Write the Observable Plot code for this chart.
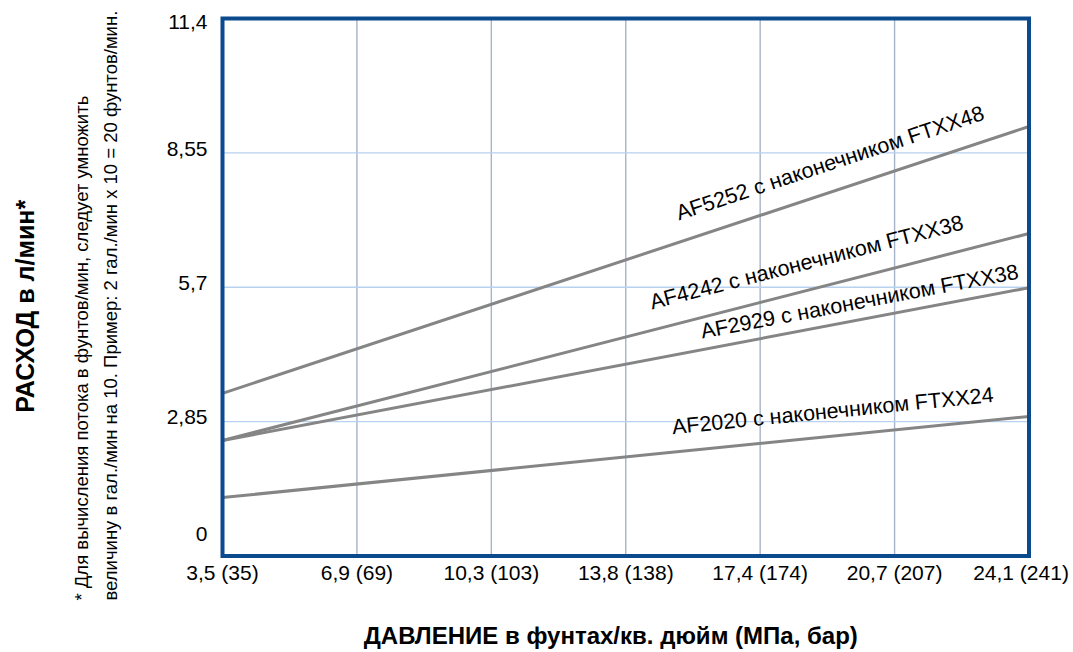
<!DOCTYPE html>
<html>
<head>
<meta charset="utf-8">
<script src="https://cdn.jsdelivr.net/npm/d3@7"></script>
<script src="https://cdn.jsdelivr.net/npm/@observablehq/plot@0.6"></script>
<style>
  html, body { margin: 0; padding: 0; background: #fff; }
  #chart svg { display: block; }
</style>
</head>
<body>
<div id="chart"></div>
<script>
// ---- data ----
const pressureLabels = ["3,5 (35)", "6,9 (69)", "10,3 (103)", "13,8 (138)", "17,4 (174)", "20,7 (207)", "24,1 (241)"];
const yTickValues = [0, 2.85, 5.7, 8.55, 11.4];
const yTickLabels = ["0", "2,85", "5,7", "8,55", "11,4"];
const seriesNames = [
  "AF5252 с наконечником FTXX48",
  "AF4242 с наконечником FTXX38",
  "AF2929 с наконечником FTXX38",
  "AF2020 с наконечником FTXX24"
];
const flowAtLowPressure = [3.45, 2.45, 2.45, 1.24];   // at 3,5 (35)
const flowAtHighPressure = [9.11, 6.84, 5.69, 2.96];  // at 24,1 (241)
const xTitle = "ДАВЛЕНИЕ в фунтах/кв. дюйм (МПа, бар)";
const yTitle = "РАСХОД в л/мин*";
const footnote = "* Для вычисления потока в фунтов/мин, следует умножить\nвеличину в гал./мин на 10. Пример: 2 гал./мин x 10 = 20 фунтов/мин.";

// ---- layout ----
const W = 1073, H = 652;
const mL = 222, mR = 44.5, mT = 18, mB = 96.5;
const plotW = W - mL - mR, plotH = H - mT - mB;
const yMax = 11.4, xMax = pressureLabels.length - 1;

// label placement along each line (x index) and vertical offset in px
const labelPos = [4.52, 4.345, 4.74, 4.54];
const labelDy = [-29, -28, -18, -25];

const lineData = seriesNames.flatMap((s, i) => [
  {series: s, x: 0, y: flowAtLowPressure[i]},
  {series: s, x: xMax, y: flowAtHighPressure[i]}
]);

const labelData = seriesNames.map((s, i) => {
  const t = labelPos[i] / xMax;
  const y = flowAtLowPressure[i] + (flowAtHighPressure[i] - flowAtLowPressure[i]) * t;
  const slopePx = ((flowAtHighPressure[i] - flowAtLowPressure[i]) / yMax * plotH) / plotW;
  return {text: s, x: labelPos[i], y, rotate: -Math.atan(slopePx) * 180 / Math.PI, dy: labelDy[i]};
});

const fmtY = v => yTickLabels[yTickValues.indexOf(v)];
const fmtX = i => pressureLabels[i];
const font = "'Liberation Sans', Arial, Helvetica, sans-serif";
const tickFont = 21;
const xIdx = d3.range(0, xMax + 1);

const chart = Plot.plot({
  width: W, height: H,
  marginLeft: mL, marginRight: mR, marginTop: mT, marginBottom: mB,
  style: {fontFamily: font, color: "#000", background: "#fff"},
  x: {domain: [0, xMax]},
  y: {domain: [0, yMax]},
  marks: [
    Plot.gridX(xIdx.slice(1, -1), {stroke: "#a6b3c8", strokeOpacity: 1, strokeWidth: 1.4}),
    Plot.gridY(yTickValues.slice(1, -1), {stroke: "#b8d1ef", strokeOpacity: 1, strokeWidth: 1.4}),
    Plot.axisX(xIdx.slice(0, -1), {tickFormat: fmtX, tickSize: 0, tickPadding: 9, fontSize: tickFont, label: null}),
    Plot.axisX(xIdx.slice(-1), {tickFormat: fmtX, tickSize: 0, tickPadding: 9, fontSize: tickFont, label: null, dx: -8}),
    Plot.axisY(yTickValues.slice(1, -1), {tickFormat: fmtY, tickSize: 0, tickPadding: 15, fontSize: tickFont, label: null, dy: -4}),
    Plot.axisY(yTickValues.slice(-1), {tickFormat: fmtY, tickSize: 0, tickPadding: 15, fontSize: tickFont, label: null, dy: 4}),
    Plot.axisY(yTickValues.slice(0, 1), {tickFormat: fmtY, tickSize: 0, tickPadding: 15, fontSize: tickFont, label: null, dy: -22}),
    Plot.line(lineData, {x: "x", y: "y", z: "series", stroke: "#858585", strokeWidth: 3}),
    ...labelData.map(d => Plot.text([d], {x: "x", y: "y", text: "text", rotate: "rotate", dy: d.dy, fontSize: 21.5, fill: "#000", textAnchor: "middle", lineAnchor: "middle"})),
    Plot.text([xTitle], {frameAnchor: "bottom", dx: -15, dy: 80, fontSize: 24, fontWeight: "bold", textAnchor: "middle", lineAnchor: "middle"}),
    Plot.text([yTitle], {frameAnchor: "left", dx: -197, dy: 19, rotate: -90, fontSize: 25, fontWeight: "bold", textAnchor: "middle", lineAnchor: "middle"}),
    Plot.text([footnote], {frameAnchor: "bottom-left", dx: -129.5, dy: 44.5, rotate: -90, fontSize: 18.5, textAnchor: "start", lineAnchor: "middle", lineHeight: 1.55}),
    Plot.frame({stroke: "#0b4a8d", strokeWidth: 4})
  ]
});
document.getElementById("chart").appendChild(chart);
</script>
</body>
</html>
